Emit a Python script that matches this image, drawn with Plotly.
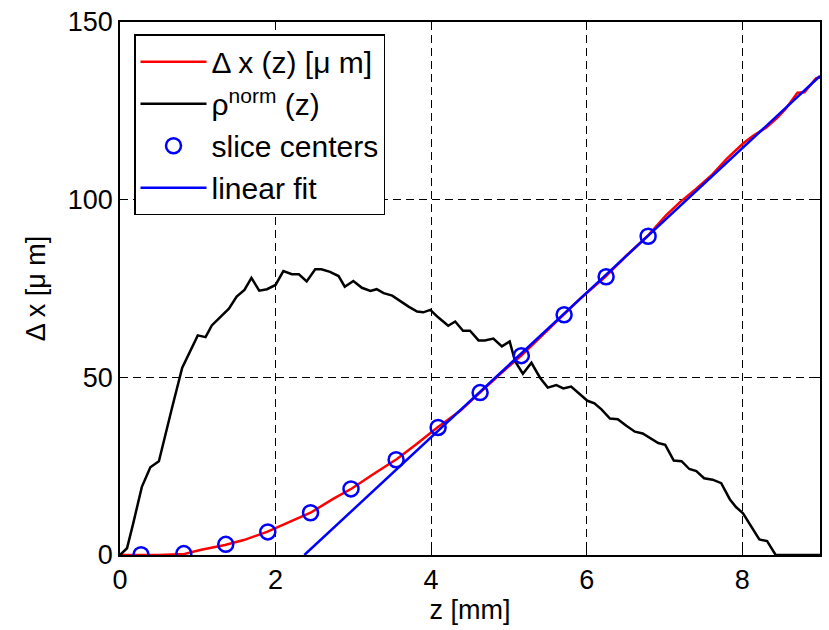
import plotly.graph_objects as go

# rho_norm(z) curve
rho_z = [0.0, 0.09, 0.17, 0.28, 0.39, 0.50, 0.67, 0.80, 1.00, 1.10, 1.18, 1.40, 1.50, 1.60, 1.69, 1.79,
         1.89, 2.00, 2.10, 2.21, 2.30, 2.40, 2.51, 2.59, 2.70, 2.81, 2.89, 3.00, 3.11, 3.22, 3.30, 3.39,
         3.50, 3.60, 3.71, 3.82, 3.90, 3.99, 4.09, 4.22, 4.31, 4.41, 4.50, 4.61, 4.69, 4.80, 4.91, 5.01,
         5.08, 5.18, 5.29, 5.40, 5.50, 5.61, 5.70, 5.80, 5.91, 6.01, 6.10, 6.19, 6.30, 6.40, 6.51, 6.62,
         6.72, 6.83, 6.92, 7.01, 7.12, 7.22, 7.32, 7.41, 7.51, 7.62, 7.73, 7.84, 7.92, 8.01, 8.12, 8.22,
         8.32, 8.43, 9.00]
rho_v = [0.0, 1.9, 8.9, 19.1, 24.7, 26.4, 41.5, 52.7, 61.8, 61.3, 64.6, 69.3, 72.7, 74.6, 78.0, 74.4,
         74.8, 76.0, 79.9, 79.0, 79.0, 77.0, 80.4, 80.4, 79.7, 78.5, 75.5, 77.1, 75.2, 74.3, 74.8, 73.7,
         73.0, 71.5, 69.9, 68.5, 68.3, 69.0, 66.9, 64.5, 65.7, 63.1, 63.1, 60.4, 60.4, 60.9, 58.7, 60.1,
         54.5, 51.0, 54.1, 49.9, 47.1, 47.8, 46.9, 47.4, 45.2, 43.4, 42.7, 41.0, 38.4, 38.2, 36.4, 34.7,
         34.2, 32.6, 31.5, 31.0, 26.6, 26.4, 24.2, 23.6, 21.6, 21.2, 20.2, 15.7, 13.5, 11.7, 7.9, 4.4,
         3.9, 0.0, 0.0]

# Delta x(z) curve [um]
dx_z = [0.0, 0.50, 0.83, 1.03, 1.35, 1.59, 1.89, 2.19, 2.45, 2.74, 2.98, 3.26, 3.56, 3.81, 4.08,
        4.37, 4.63, 4.88, 5.16, 5.44, 5.71, 5.91, 6.24, 6.50, 6.78, 7.02, 7.20, 7.41, 7.62, 7.80,
        8.01, 8.14, 8.31, 8.45, 8.56, 8.71, 8.80, 8.95, 9.00]
dx_v = [0.0, 0.0, 0.3, 1.4, 2.8, 4.2, 6.5, 9.3, 11.9, 15.8, 18.7, 22.8, 27.0, 31.2, 35.9,
        40.5, 45.7, 50.8, 56.1, 62.0, 67.6, 72.0, 78.3, 84.0, 89.7, 95.6, 99.3, 103.1, 107.2, 111.5,
        115.8, 118.0, 120.3, 123.0, 125.6, 130.1, 130.2, 134.2, 134.4]

# slice centers
sc_z = [0.27, 0.82, 1.36, 1.90, 2.45, 2.97, 3.55, 4.09, 4.63, 5.16, 5.71, 6.25, 6.79]
sc_v = [0.1, 0.4, 3.0, 6.5, 11.9, 18.6, 26.8, 35.9, 45.7, 56.1, 67.6, 78.3, 89.7]

# linear fit
fit_z = [2.37, 9.0]
fit_v = [0.0, 134.8]

FONT = "Liberation Sans, Arial, sans-serif"

fig = go.Figure()
fig.add_trace(go.Scatter(x=dx_z, y=dx_v, mode="lines", name="\u0394 x (z) [\u03bc m]",
                         line=dict(color="#ff0000", width=2.5), legendgroup="a"))
fig.add_trace(go.Scatter(x=rho_z, y=rho_v, mode="lines", name="\u03c1<sup>norm</sup> (z)",
                         line=dict(color="#000000", width=2.5), legendgroup="b"))
fig.add_trace(go.Scatter(x=sc_z, y=sc_v, mode="markers", name="slice centers",
                         marker=dict(symbol="circle-open", size=15, color="#0000ff",
                                     line=dict(width=2.5, color="#0000ff")), legendgroup="c"))
fig.add_trace(go.Scatter(x=fit_z, y=fit_v, mode="lines", name="linear fit",
                         line=dict(color="#0000ff", width=2.5), legendgroup="d"))

axis_common = dict(
    showline=True, linecolor="black", linewidth=1.5, mirror="ticks",
    ticks="inside", ticklen=6, tickcolor="black",
    showgrid=True, gridcolor="black", gridwidth=1, griddash="8px,5px",
    zeroline=False, tickfont=dict(family=FONT, size=27, color="black"),
)

fig.update_xaxes(range=[0, 9], tickvals=[0, 2, 4, 6, 8],
                 title=dict(text="z [mm]", font=dict(family=FONT, size=27, color="black"), standoff=4),
                 **axis_common)
fig.update_yaxes(range=[0, 150], tickvals=[0, 50, 100, 150],
                 title=dict(text="\u0394 x [\u03bc m]", font=dict(family=FONT, size=27, color="black"), standoff=14),
                 **axis_common)

fig.update_layout(
    width=829, height=630,
    margin=dict(l=120, r=7, t=19, b=75),
    plot_bgcolor="white", paper_bgcolor="white",
    font=dict(family=FONT, size=27, color="black"),
    legend=dict(x=0.02, y=0.977, xanchor="left", yanchor="top",
                bgcolor="white", bordercolor="black", borderwidth=1.5,
                font=dict(family=FONT, size=30, color="black"),
                traceorder="grouped", tracegroupgap=0, itemwidth=66),
    showlegend=True,
)

fig.write_html("out.html")
